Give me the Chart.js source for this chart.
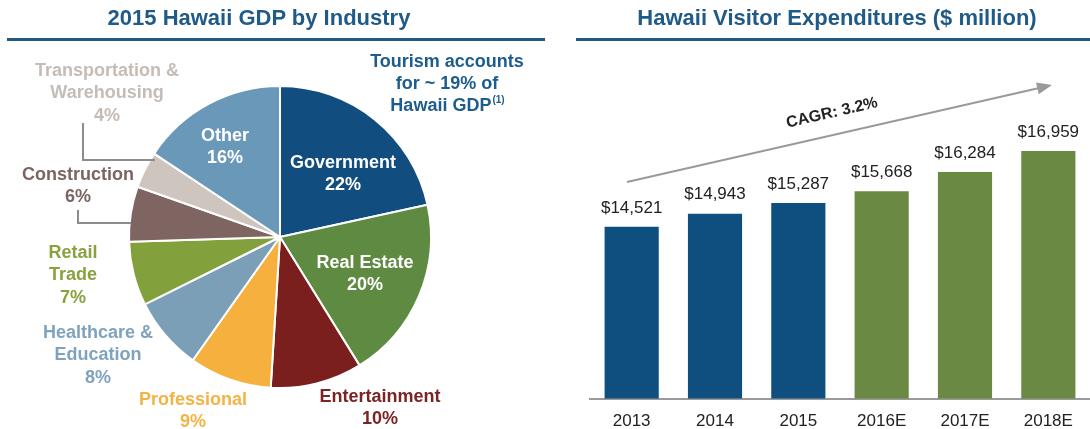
<!DOCTYPE html>
<html>
<head>
<meta charset="utf-8">
<script src="https://cdn.jsdelivr.net/npm/chart.js@4.4.1/dist/chart.umd.min.js"></script>
<style>
  body { margin: 0; background: #fff; width: 1090px; height: 429px; overflow: hidden; position: relative; font-family: 'Liberation Sans', Arial, sans-serif; }
  .title { position: absolute; top: 5px; font-weight: bold; font-size: 22px; line-height: 26px; color: #1f5a88; text-align: center; white-space: nowrap; }
  .rule { position: absolute; top: 38px; height: 3px; background: #1f5a88; }
  #pieCanvas { position: absolute; left: 0; top: 0; }
  #barCanvas { position: absolute; left: 560px; top: 0; }
</style>
</head>
<body>
<canvas id="pieCanvas" width="560" height="429"></canvas>
<canvas id="barCanvas" width="530" height="445"></canvas>
<div class="title" style="left:0;width:518px;">2015 Hawaii GDP by Industry</div>
<div class="rule" style="left:7px;width:538px;"></div>
<div class="title" style="left:584px;width:506px;">Hawaii Visitor Expenditures ($ million)</div>
<div class="rule" style="left:576px;width:514px;"></div>

<script>
'use strict';

const FONT = "'Liberation Sans', Arial, sans-serif";

// left: GDP share by industry (%), clockwise from 12 o'clock
const industries = ['Government', 'Real Estate', 'Entertainment', 'Professional', 'Healthcare & Education', 'Retail Trade', 'Construction', 'Transportation & Warehousing', 'Other'];
const gdpShare = [22, 20, 10, 9, 8, 7, 6, 4, 16];
const sliceColors = ['#114d7e', '#5f8a42', '#7a1f1d', '#f5b03e', '#7c9fb8', '#82a03b', '#7e6561', '#cec5bf', '#6a98b8'];

// right: visitor expenditures
const years = ['2013', '2014', '2015', '2016E', '2017E', '2018E'];
const visitorSpend = [14521, 14943, 15287, 15668, 16284, 16959];
const barColors = ['#0e4f80', '#0e4f80', '#0e4f80', '#6a8a43', '#6a8a43', '#6a8a43'];
const cagrText = 'CAGR: 3.2%';

// where the pie labels sit (canvas px), one per slice
const pieLabelLayout = [
  { lines: ['Government'], x: 343, y: 163, color: '#ffffff' },
  { lines: ['Real Estate'], x: 365, y: 263, color: '#ffffff' },
  { lines: ['Entertainment'], x: 380, y: 397, color: '#7a2424' },
  { lines: ['Professional'], x: 193, y: 400, color: '#f4b344' },
  { lines: ['Healthcare &', 'Education'], x: 98, y: 333, color: '#7fa3bf' },
  { lines: ['Retail', 'Trade'], x: 73, y: 253, color: '#88a23e' },
  { lines: ['Construction'], x: 78, y: 175, color: '#7a6560' },
  { lines: ['Transportation &', 'Warehousing'], x: 107, y: 71, color: '#c6bcb6' },
  { lines: ['Other'], x: 225, y: 136, color: '#ffffff' }
];

const pieLabels = {
  id: 'pieLabels',
  afterDraw(chart) {
    const ctx = chart.ctx;
    ctx.save();
    ctx.textAlign = 'center';
    ctx.textBaseline = 'middle';
    ctx.font = 'bold 18px ' + FONT;
    for (let i = 0; i < pieLabelLayout.length; i++) {
      const l = pieLabelLayout[i];
      ctx.fillStyle = l.color;
      const all = l.lines.concat([gdpShare[i] + '%']);
      for (let j = 0; j < all.length; j++) {
        ctx.fillText(all[j], l.x, l.y + j * 22.5);
      }
    }

    // leader lines for the two thin slices
    ctx.strokeStyle = '#8c8c8c';
    ctx.lineWidth = 2;
    ctx.beginPath();
    ctx.moveTo(83, 123); ctx.lineTo(83, 160); ctx.lineTo(155, 160);
    ctx.moveTo(78, 210); ctx.lineTo(78, 223); ctx.lineTo(131, 223);
    ctx.stroke();

    // tourism note
    ctx.fillStyle = '#1d5d8d';
    ctx.fillText('Tourism accounts', 447, 62);
    ctx.fillText('for ~ 19% of', 447, 84);
    const main = 'Hawaii GDP';
    const sup = '(1)';
    const wMain = ctx.measureText(main).width;
    ctx.font = 'bold 10px ' + FONT;
    const wSup = ctx.measureText(sup).width;
    const x0 = 447 - (wMain + wSup) / 2;
    ctx.textAlign = 'left';
    ctx.fillText(sup, x0 + wMain + 1, 100);
    ctx.font = 'bold 18px ' + FONT;
    ctx.fillText(main, x0, 106);
    ctx.restore();
  }
};

new Chart(document.getElementById('pieCanvas'), {
  type: 'pie',
  data: {
    labels: industries,
    datasets: [{
      data: gdpShare,
      backgroundColor: sliceColors,
      borderColor: '#ffffff',
      borderWidth: 2,
      hoverOffset: 0
    }]
  },
  options: {
    responsive: false,
    animation: false,
    layout: { padding: { left: 128, right: 128, top: 85, bottom: 40 } },
    plugins: { legend: { display: false }, tooltip: { enabled: false } }
  },
  plugins: [pieLabels]
});

const barExtras = {
  id: 'barExtras',
  afterDatasetsDraw(chart) {
    const ctx = chart.ctx;
    const bars = chart.getDatasetMeta(0).data;
    ctx.save();
    ctx.fillStyle = '#222';
    ctx.font = '17px ' + FONT;
    ctx.textAlign = 'center';
    ctx.textBaseline = 'middle';
    bars.forEach(function (bar, i) {
      ctx.fillText('$' + visitorSpend[i].toLocaleString('en-US'), bar.x, bar.y - 19);
    });

    // growth arrow
    const x1 = 67, y1 = 182, x2 = 492, y2 = 85;
    const ang = Math.atan2(y2 - y1, x2 - x1);
    ctx.strokeStyle = '#9a9a9a';
    ctx.fillStyle = '#9a9a9a';
    ctx.lineWidth = 2;
    ctx.beginPath();
    ctx.moveTo(x1, y1);
    ctx.lineTo(x2 - 12 * Math.cos(ang), y2 - 12 * Math.sin(ang));
    ctx.stroke();
    ctx.beginPath();
    ctx.moveTo(x2, y2);
    ctx.lineTo(x2 - 15 * Math.cos(ang) + 6 * Math.sin(ang), y2 - 15 * Math.sin(ang) - 6 * Math.cos(ang));
    ctx.lineTo(x2 - 15 * Math.cos(ang) - 6 * Math.sin(ang), y2 - 15 * Math.sin(ang) + 6 * Math.cos(ang));
    ctx.closePath();
    ctx.fill();

    ctx.translate(272, 113);
    ctx.rotate(ang);
    ctx.fillStyle = '#222';
    ctx.font = 'bold 16px ' + FONT;
    ctx.fillText(cagrText, 0, 0);
    ctx.restore();
  }
};

new Chart(document.getElementById('barCanvas'), {
  type: 'bar',
  data: {
    labels: years,
    datasets: [{
      data: visitorSpend,
      backgroundColor: barColors,
      categoryPercentage: 1,
      barPercentage: 0.65
    }]
  },
  options: {
    responsive: false,
    animation: false,
    layout: { padding: { left: 30, right: 0, top: 72, bottom: 0 } },
    plugins: { legend: { display: false }, tooltip: { enabled: false } },
    scales: {
      x: {
        grid: { display: false, drawTicks: false },
        border: { display: true, color: '#9a9a9a', width: 2 },
        ticks: { color: '#222', font: { size: 17, family: FONT }, padding: 13 }
      },
      y: { display: false, min: 9000, max: 19500 }
    }
  },
  plugins: [barExtras]
});
</script>
</body>
</html>
